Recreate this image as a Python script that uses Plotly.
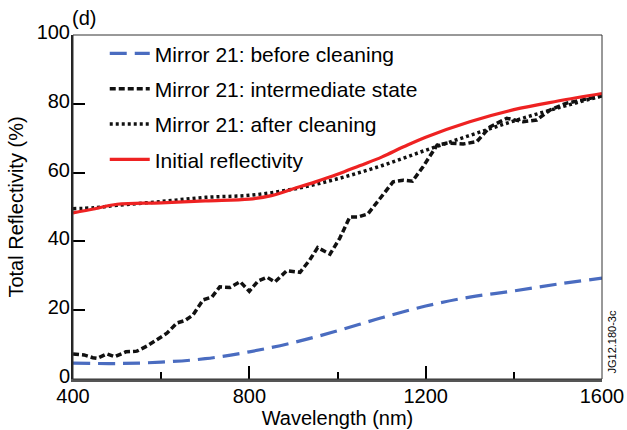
import plotly.graph_objects as go

# ---------------- data ----------------
wl_before = [400, 500, 600, 700, 800, 900, 1000, 1100, 1200, 1300, 1400, 1500, 1600]
r_before = [4.6, 4.5, 4.9, 5.9, 7.9, 10.6, 14.0, 17.8, 21.2, 23.8, 25.6, 27.6, 29.3]

wl_inter = [400, 425, 445, 455, 477, 495, 520, 545, 568, 590, 613, 636, 654, 672, 695,
            715, 733, 756, 779, 800, 820, 840, 858, 885, 915, 937, 955, 983, 1005,
            1028, 1047, 1069, 1096, 1126, 1149, 1170, 1194, 1226, 1250, 1285, 1316,
            1346, 1384, 1421, 1452, 1482, 1520, 1557, 1600]
r_inter = [7.3, 7.0, 6.2, 6.0, 7.3, 6.5, 7.9, 8.1, 9.6, 11.3, 13.3, 16.3, 17.0, 18.6, 23.0,
           23.8, 26.8, 26.6, 28.3, 25.5, 28.5, 29.6, 28.2, 31.5, 31.0, 34.6, 38.2, 36.3, 40.9,
           47.1, 47.1, 48.0, 52.6, 57.3, 57.8, 57.5, 61.7, 68.0, 68.6, 68.3, 69.0,
           73.3, 75.8, 74.8, 75.3, 78.2, 80.2, 81.1, 82.3]

wl_after = [400, 450, 500, 600, 700, 800, 900, 1000, 1100, 1200, 1300, 1400, 1500, 1600]
r_after = [49.5, 49.8, 50.5, 51.6, 52.8, 53.4, 55.2, 58.2, 62.0, 66.5, 70.8, 75.0, 78.8, 82.3]

wl_init = [400, 450, 500, 600, 700, 800, 850, 900, 950, 1000, 1050, 1100, 1150, 1200,
           1300, 1400, 1500, 1600]
r_init = [48.3, 49.5, 50.8, 51.2, 51.8, 52.3, 53.3, 55.3, 57.3, 59.5, 62.0, 64.5, 67.5, 70.3,
          74.8, 78.3, 80.8, 83.0]

names = ["Mirror 21: before cleaning", "Mirror 21: intermediate state",
         "Mirror 21: after cleaning", "Initial reflectivity"]

x_ticks = [400, 800, 1200, 1600]
y_ticks = [0, 20, 40, 60, 80, 100]

FONT = "Liberation Sans, Arial, sans-serif"

fig = go.Figure()
fig.add_trace(go.Scatter(x=wl_before, y=r_before, mode="lines", name=names[0],
                         line=dict(color="#4a6cc0", width=3.2, dash="17px,8px", shape="spline"),
                         legendgroup="a"))
fig.add_trace(go.Scatter(x=wl_inter, y=r_inter, mode="lines", name=names[1],
                         line=dict(color="#111111", width=3.5, dash="6px,3px"),
                         legendgroup="b"))
fig.add_trace(go.Scatter(x=wl_after, y=r_after, mode="lines", name=names[2],
                         line=dict(color="#111111", width=3.5, dash="3px,3px", shape="spline"),
                         legendgroup="c"))
fig.add_trace(go.Scatter(x=wl_init, y=r_init, mode="lines", name=names[3],
                         line=dict(color="#ee2222", width=3.2, shape="spline"),
                         legendgroup="d"))

fig.update_layout(
    width=627, height=430,
    margin=dict(l=73, r=25, t=35, b=51),
    paper_bgcolor="white", plot_bgcolor="white",
    font=dict(family=FONT, size=20, color="black"),
    showlegend=True,
    legend=dict(x=0.06, y=1.005, xanchor="left", yanchor="top",
                bgcolor="rgba(0,0,0,0)", font=dict(size=21, family=FONT),
                traceorder="grouped", tracegroupgap=5, itemwidth=40),
    xaxis=dict(range=[400, 1600], tickvals=x_ticks, ticktext=[str(v) for v in x_ticks],
               ticks="inside", ticklen=13, tickwidth=1.5, tickcolor="black",
               showline=True, linecolor="#555555", linewidth=2.5,
               showgrid=False, zeroline=False, automargin=False,
               ticklabelstandoff=-3,
               minor=dict(tickvals=[600, 1000, 1400], ticks="inside", ticklen=7,
                          tickwidth=1.5, tickcolor="black", showgrid=False),
               title=dict(text="Wavelength (nm)", font=dict(size=20), standoff=2),
               tickfont=dict(size=20)),
    yaxis=dict(range=[0, 100], tickvals=y_ticks, ticktext=[str(v) for v in y_ticks],
               ticks="inside", ticklen=12, tickwidth=1.5, tickcolor="black",
               showline=True, linecolor="#222222", linewidth=2,
               showgrid=False, zeroline=False, automargin=False,
               ticklabelstandoff=-3, ticklabelshift=-3,
               title=dict(text="Total Reflectivity (%)", font=dict(size=20), standoff=8),
               tickfont=dict(size=20)),
    shapes=[dict(type="rect", xref="paper", yref="paper", x0=0, x1=1, y0=0, y1=1,
                 line=dict(color="#333333", width=1), layer="above")],
    annotations=[
        dict(text="(d)", xref="paper", yref="paper", x=0.0, y=1.0, xanchor="left",
             yanchor="bottom", showarrow=False, font=dict(size=20), yshift=4, xshift=-3),
        dict(text="JG12.180-3c", xref="paper", yref="paper", x=1.0, y=0.0,
             xanchor="left", yanchor="bottom", showarrow=False, textangle=-90,
             font=dict(size=11), xshift=1, yshift=3),
    ],
)

fig.write_html("out.html")
